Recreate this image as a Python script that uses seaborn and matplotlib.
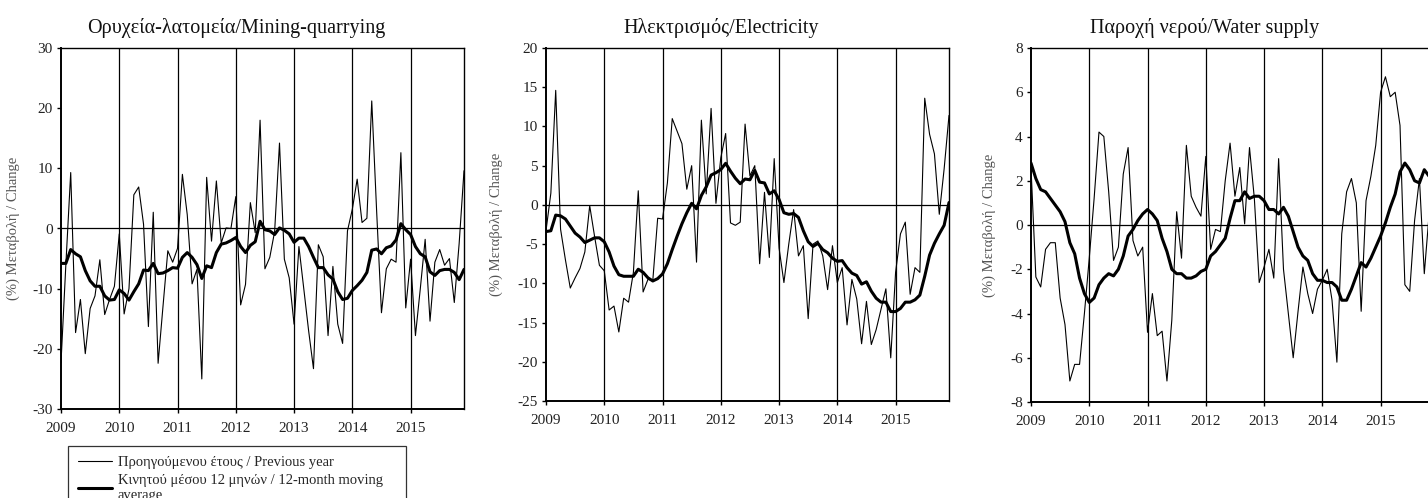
import numpy as np
import pandas as pd
import matplotlib
matplotlib.use("Agg")
import matplotlib.pyplot as plt
import seaborn as sns
from matplotlib.lines import Line2D

# monthly points, Jan 2009 .. Dec 2015
n_months = 84
years = [2009, 2010, 2011, 2012, 2013, 2014, 2015]

titles = ["Ορυχεία-λατομεία/Mining-quarrying",
          "Ηλεκτρισμός/Electricity",
          "Παροχή νερού/Water supply"]
ylabel = "(%) Μεταβολή / Change"
legend_labels = ["Προηγούμενου έτους / Previous year",
                 "Κινητού μέσου 12 μηνών / 12-month moving\naverage"]

# 1- mining-quarrying
mining_yoy = [-22.3, -6, 9.3, -17.3, -11.8, -20.8, -13.3, -11.2, -5.2, -14.3, -11.8, -9.6,
              -0.9, -14.2, -10, 5.6, 6.9, 0.7, -16.3, 2.7, -22.4, -13, -3.7, -5.6,
              -3.3, 9.0, 2.3, -9.2, -6.8, -25, 8.5, -2.1, 7.9, -2.4, 0.1, 0,
              5.3, -12.7, -9.3, 4.3, -0.7, 18, -6.7, -4.8, -0.5, 14.2, -5.1, -8.2,
              -15.9, -3.0, -10, -17, -23.3, -2.7, -4.7, -17.8, -6.3, -15.9, -19.1, -0.4,
              3.2, 8.2, 1.0, 1.7, 21.2, 3, -14, -6.7, -5.1, -5.6, 12.6, -13.2,
              -5.1, -17.8, -10, -1.8, -15.4, -5.6, -3.5, -6.1, -5, -12.3, -2.5, 9.6]
mining_ma = [-5.8, -5.8, -3.5, -4.2, -4.7, -7, -8.7, -9.6, -9.6, -11.2, -11.9, -11.8,
             -10.2, -10.8, -11.9, -10.5, -9.2, -6.9, -7, -5.8, -7.5, -7.4, -7, -6.5,
             -6.6, -4.8, -4, -4.8, -6, -8.3, -6.2, -6.5, -4, -2.6, -2.4, -2,
             -1.5, -3, -4, -2.8, -2.2, 1.2, -0.2, -0.4, -1, 0.1, -0.3, -0.9,
             -2.3, -1.6, -1.6, -3, -4.8, -6.5, -6.5, -7.7, -8.4, -10.5, -11.8, -11.6,
             -10.3, -9.5, -8.6, -7.3, -3.6, -3.4, -4.2, -3.2, -2.9, -1.9, 0.8, -0.2,
             -1, -3, -4.2, -4.7, -7.2, -7.8, -7, -6.8, -6.8, -7.3, -8.5, -6.8]

# 2- electricity
elec_yoy = [-3.3, 1.5, 14.6, -3.1, -7, -10.6, -9.3, -8.1, -6, -0.1, -4, -7.7,
            -8.4, -13.4, -12.9, -16.2, -11.9, -12.4, -8.6, 1.8, -11.1, -9.5, -9.6, -1.7,
            -1.8, 2.8, 11, 9.4, 7.8, 2.0, 5.0, -7.3, 10.8, 1.4, 12.3, 0.2,
            6, 9.1, -2.3, -2.6, -2.2, 10.3, 3.7, 5.0, -7.5, 1.6, -6.7, 5.9,
            -5.5, -9.9, -5, -0.6, -6.5, -5.2, -14.5, -5.0, -4.6, -6.5, -10.8, -5.2,
            -9.9, -8.0, -15.3, -9.5, -12, -17.7, -12.3, -17.8, -15.9, -13.3, -10.7, -19.5,
            -8.6, -3.7, -2.2, -11.4, -8.0, -8.6, 13.6, 9.0, 6.5, -1.2, 4.6, 11.4]
elec_ma = [-3.4, -3.3, -1.3, -1.4, -1.8, -2.7, -3.6, -4.1, -4.8, -4.5, -4.2, -4.2,
           -4.7, -6, -7.8, -8.9, -9.1, -9.1, -9.1, -8.2, -8.6, -9.3, -9.7, -9.4,
           -8.8, -7.5, -5.7, -4, -2.4, -1, 0.2, -0.5, 1.2, 2.3, 3.8, 4.1,
           4.5, 5.3, 4.3, 3.4, 2.7, 3.3, 3.2, 4.4, 2.9, 2.8, 1.4, 1.8,
           0.7, -1, -1.2, -1.1, -1.6, -3.3, -4.7, -5.3, -4.9, -5.7, -6.1, -6.8,
           -7.2, -7.1, -8, -8.7, -9, -10.1, -9.8, -11, -11.9, -12.4, -12.4, -13.6,
           -13.6, -13.2, -12.4, -12.4, -12.1, -11.5, -9.1, -6.4, -4.9, -3.7, -2.6, 0.3]

# 3- water supply
water_yoy = [2.6, -2.35, -2.8, -1.1, -0.8, -0.8, -3.3, -4.5, -7.05, -6.3, -6.3, -4.0,
             -1.5, 1.2, 4.2, 4.0, 1.5, -1.6, -1.0, 2.3, 3.5, -0.7, -1.4, -1.0,
             -4.85, -3.1, -5.0, -4.8, -7.05, -4.3, 0.6, -1.5, 3.6, 1.3, 0.8, 0.4,
             3.1, -1.1, -0.2, -0.3, 2.0, 3.7, 1.3, 2.6, 0.05, 3.5, 1.2, -2.6,
             -1.9, -1.1, -2.4, 3.0, -2.0, -4.0, -6.0, -3.9, -1.9, -3.1, -4.0, -2.9,
             -2.5, -2.0, -3.4, -6.2, -0.4, 1.5, 2.1, 1.0, -3.9, 1.1, 2.2, 3.6,
             6.0, 6.7, 5.8, 6.0, 4.5, -2.7, -3.0, 0.2, 2.1, -2.2, 0.5, 1.0]
water_ma = [2.8, 2.1, 1.6, 1.5, 1.2, 0.9, 0.6, 0.15, -0.8, -1.3, -2.4, -3.1,
            -3.5, -3.3, -2.7, -2.4, -2.2, -2.3, -2.0, -1.4, -0.5, -0.2, 0.2, 0.5,
            0.7, 0.5, 0.2, -0.6, -1.2, -2.0, -2.2, -2.2, -2.4, -2.4, -2.3, -2.1,
            -2.0, -1.4, -1.2, -0.9, -0.6, 0.3, 1.1, 1.1, 1.5, 1.2, 1.3, 1.3,
            1.1, 0.7, 0.7, 0.5, 0.8, 0.4, -0.3, -1.0, -1.4, -1.6, -2.2, -2.5,
            -2.5, -2.6, -2.6, -2.8, -3.4, -3.4, -2.9, -2.3, -1.7, -1.9, -1.5, -1.0,
            -0.5, 0.1, 0.8, 1.4, 2.4, 2.8, 2.5, 2.0, 1.9, 2.5, 2.2, 2.1]

yoy_series = [mining_yoy, elec_yoy, water_yoy]
ma_series = [mining_ma, elec_ma, water_ma]
y_ticks = [np.arange(-30, 31, 10), np.arange(-25, 21, 5), np.arange(-8, 9, 2)]

sns.set_theme(style="white")
plt.rcParams["font.family"] = ["Liberation Serif", "DejaVu Serif"]
plt.rcParams["axes.unicode_minus"] = False

fig = plt.figure(figsize=(14.28, 4.98), dpi=100)
# axes boxes in pixels: left, bottom, width, height (panel 3 runs past the edge)
boxes_px = [(61, 89, 403, 361), (546, 97, 403, 353), (1031, 96, 403, 354)]
ylabel_x = [-0.102, -0.107, -0.087]

for k in range(3):
    l, b, w, h = boxes_px[k]
    ax = fig.add_axes([l / 1428, b / 498, w / 1428, h / 498])
    df = pd.DataFrame({"year": 2009 + np.arange(n_months) / 12,
                       "yoy": yoy_series[k], "ma": ma_series[k]})
    for yr in years[1:]:
        ax.axvline(yr, color="black", lw=0.9, zorder=1)
    ax.axhline(0, color="black", lw=0.9, zorder=1)
    sns.lineplot(data=df, x="year", y="yoy", ax=ax, color="black", lw=0.8, zorder=3)
    sns.lineplot(data=df, x="year", y="ma", ax=ax, color="black", lw=2.2, zorder=4)
    ax.set_xlim(2009, 2009 + (n_months - 1) / 12)
    ax.set_ylim(y_ticks[k][0], y_ticks[k][-1])
    ax.set_yticks(y_ticks[k])
    ax.set_xticks(years)
    ax.set_xticklabels([str(y) for y in years])
    ax.tick_params(axis="both", direction="out", length=3, width=1, colors="black",
                   labelsize=11, labelcolor="#222222", pad=3, left=True, bottom=True)
    ax.tick_params(axis="x", pad=6)
    for s in ax.spines.values():
        s.set_color("black")
        s.set_linewidth(1.0)
    ax.spines["left"].set_linewidth(1.4)
    ax.spines["bottom"].set_linewidth(1.4)
    ax.set_xlabel("")
    ax.set_ylabel(ylabel, fontsize=10.5, color="#555555")
    ax.yaxis.set_label_coords(ylabel_x[k], 0.5)
    ax.set_title(titles[k], fontsize=14.5, x=0.435 if k < 2 else 0.43, pad=11,
                 color="#111111")

handles = [Line2D([], [], color="black", lw=0.8),
           Line2D([], [], color="black", lw=2.2)]
leg = fig.legend(handles, legend_labels, loc="upper left", mode="expand",
                 bbox_to_anchor=(68 / 1428, 0, 338 / 1428, 1 - 446 / 498),
                 fontsize=10.5, frameon=True, fancybox=False, borderaxespad=0,
                 handlelength=2.3, handletextpad=0.4, labelspacing=0.3,
                 borderpad=0.7)
leg.get_frame().set_edgecolor("black")
leg.get_frame().set_linewidth(0.9)

fig.savefig("out.png", dpi=100)
